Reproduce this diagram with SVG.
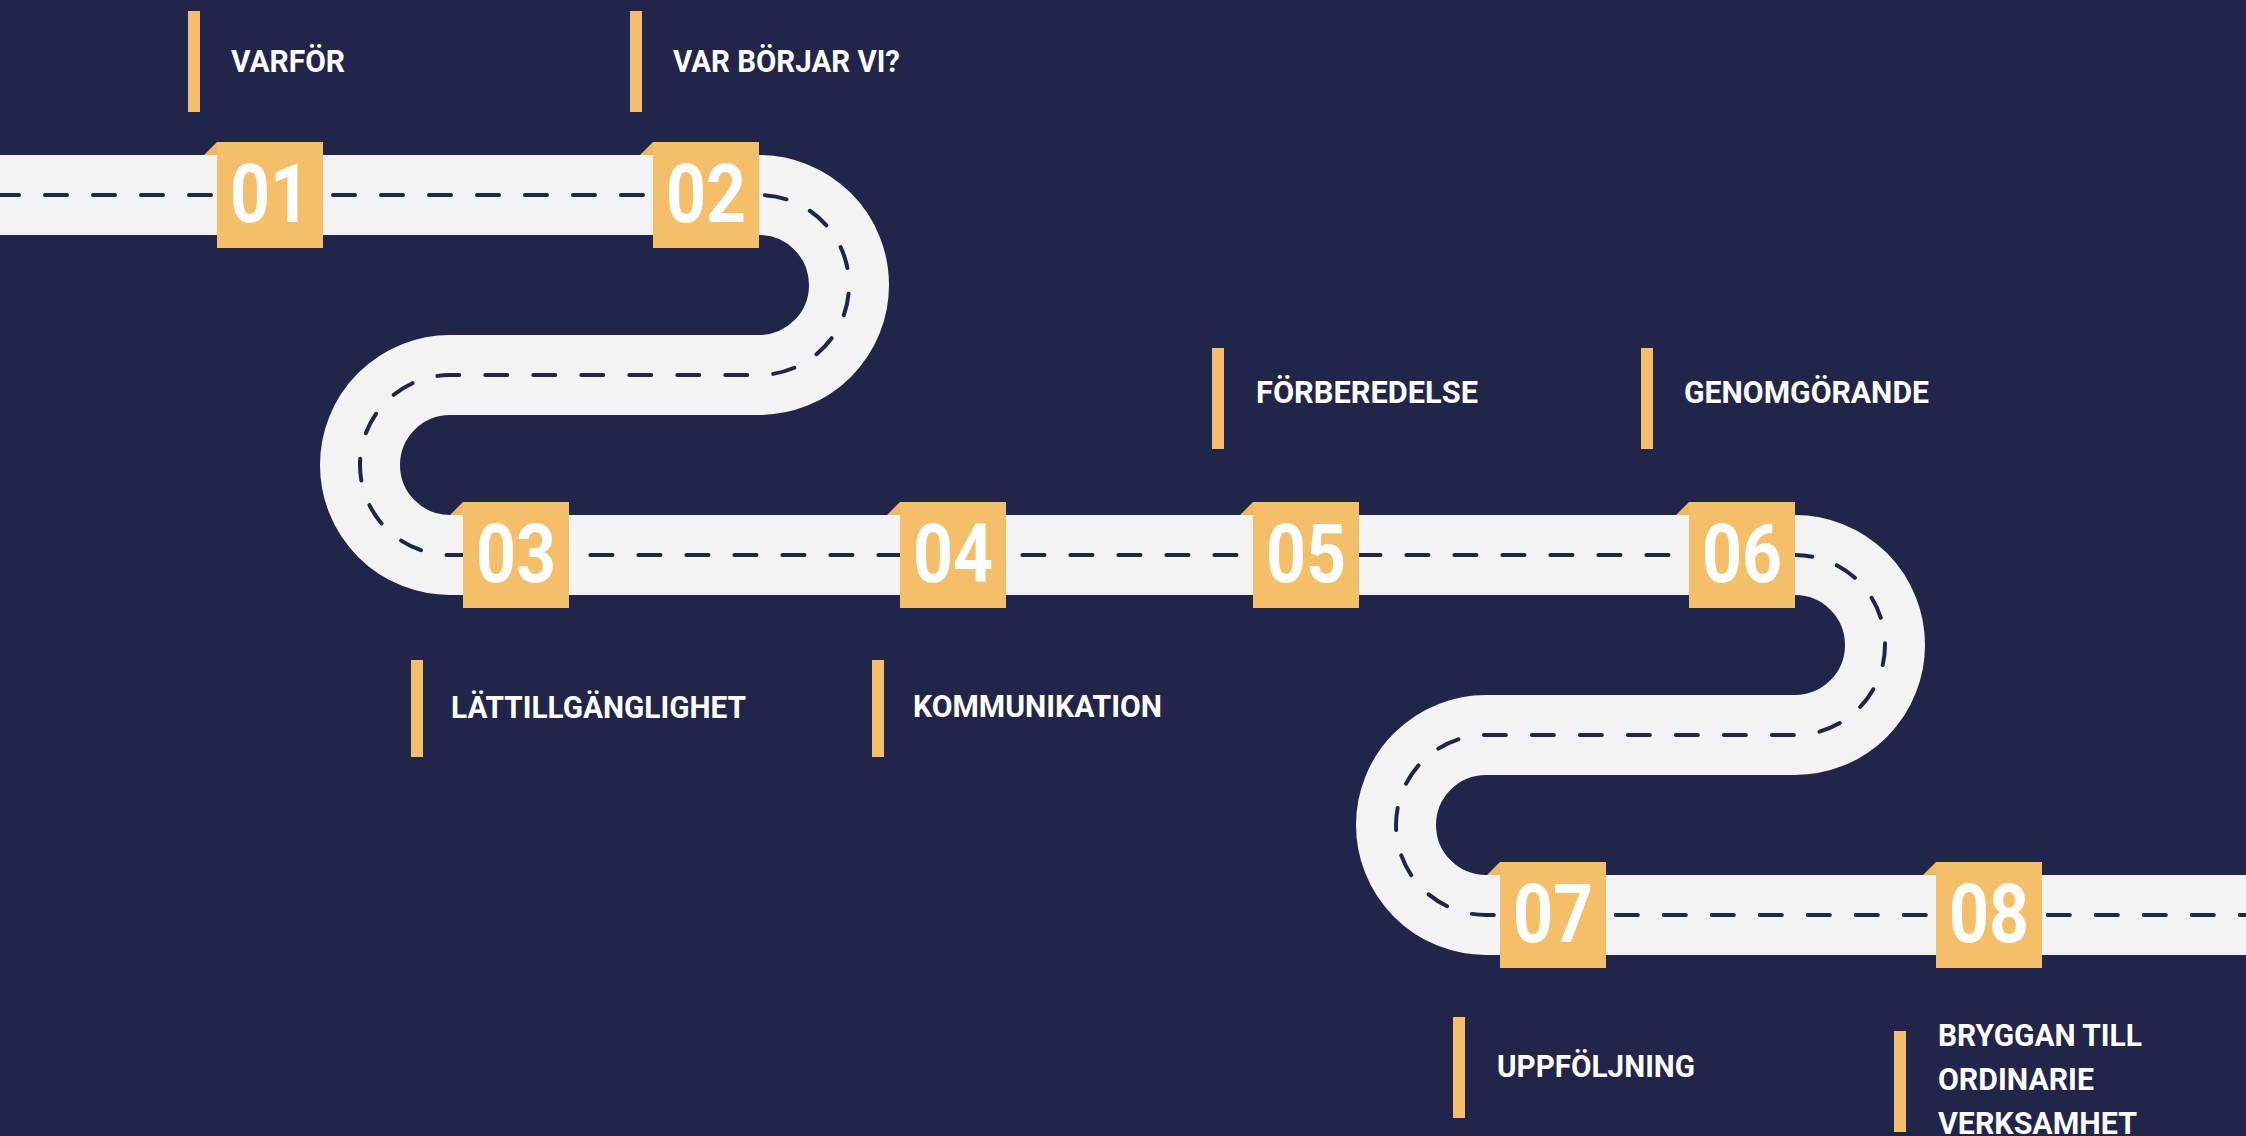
<svg xmlns="http://www.w3.org/2000/svg" width="2246" height="1136" viewBox="0 0 2246 1136">
  <defs>
    <style>
      .bg { fill: #22254a; }
      .road { fill: none; stroke: #f3f3f3; stroke-width: 80; stroke-linecap: butt; }
      .lane { fill: none; stroke: #22254a; stroke-width: 4; stroke-linecap: round; stroke-dasharray: 22 26; }
      .badge { fill: #f5bf6a; }
      .fold { fill: #efb862; }
      .num { fill: #ffffff; font-family: Roboto, "Liberation Sans", sans-serif; font-weight: 700; font-size: 82px; text-anchor: middle; }
      .bar { fill: #f5bf6a; }
      .label { fill: #ffffff; font-family: Roboto, "Liberation Sans", sans-serif; font-weight: 700; font-size: 31px; }
    </style>
  </defs>
  <rect class="bg" x="0" y="0" width="2246" height="1136"/>

  <g id="connectors">
    <path id="road" class="road" d="M0,195 H759 A90,90 0 0 1 759,375 H450 A90,90 0 0 0 450,555 H1795 A90,90 0 0 1 1795,735 H1486 A90,90 0 0 0 1486,915 H2246"/>
    <path id="lane" class="lane" d="M-3,195 H759 A90,90 0 0 1 759,375 H450 A90,90 0 0 0 450,555 H1795 A90,90 0 0 1 1795,735 H1486 A90,90 0 0 0 1486,915 H2246"/>
  </g>

  <g id="node-01">
    <polygon class="fold" points="204,155 217,142 217,155"/>
    <rect class="badge" x="217" y="142" width="106" height="106"/>
    <text class="num" x="270" y="222" textLength="80" lengthAdjust="spacingAndGlyphs">01</text>
  </g>
  <g id="node-02">
    <polygon class="fold" points="640,155 653,142 653,155"/>
    <rect class="badge" x="653" y="142" width="106" height="106"/>
    <text class="num" x="706" y="222" textLength="80" lengthAdjust="spacingAndGlyphs">02</text>
  </g>
  <g id="node-03">
    <polygon class="fold" points="450,515 463,502 463,515"/>
    <rect class="badge" x="463" y="502" width="106" height="106"/>
    <text class="num" x="516" y="582" textLength="80" lengthAdjust="spacingAndGlyphs">03</text>
  </g>
  <g id="node-04">
    <polygon class="fold" points="887,515 900,502 900,515"/>
    <rect class="badge" x="900" y="502" width="106" height="106"/>
    <text class="num" x="953" y="582" textLength="80" lengthAdjust="spacingAndGlyphs">04</text>
  </g>
  <g id="node-05">
    <polygon class="fold" points="1240,515 1253,502 1253,515"/>
    <rect class="badge" x="1253" y="502" width="106" height="106"/>
    <text class="num" x="1306" y="582" textLength="80" lengthAdjust="spacingAndGlyphs">05</text>
  </g>
  <g id="node-06">
    <polygon class="fold" points="1676,515 1689,502 1689,515"/>
    <rect class="badge" x="1689" y="502" width="106" height="106"/>
    <text class="num" x="1742" y="582" textLength="80" lengthAdjust="spacingAndGlyphs">06</text>
  </g>
  <g id="node-07">
    <polygon class="fold" points="1487,875 1500,862 1500,875"/>
    <rect class="badge" x="1500" y="862" width="106" height="106"/>
    <text class="num" x="1553" y="942" textLength="80" lengthAdjust="spacingAndGlyphs">07</text>
  </g>
  <g id="node-08">
    <polygon class="fold" points="1923,875 1936,862 1936,875"/>
    <rect class="badge" x="1936" y="862" width="106" height="106"/>
    <text class="num" x="1989" y="942" textLength="80" lengthAdjust="spacingAndGlyphs">08</text>
  </g>

  <g id="label-varfor">
    <rect class="bar" x="188" y="11" width="12" height="101"/>
    <text class="label" x="231" y="72" textLength="114" lengthAdjust="spacingAndGlyphs">VARFÖR</text>
  </g>
  <g id="label-var-borjar-vi">
    <rect class="bar" x="630" y="11" width="12" height="101"/>
    <text class="label" x="673" y="72" textLength="227" lengthAdjust="spacingAndGlyphs">VAR BÖRJAR VI?</text>
  </g>
  <g id="label-lattillganglighet">
    <rect class="bar" x="411" y="660" width="12" height="97"/>
    <text class="label" x="451" y="718" textLength="295" lengthAdjust="spacingAndGlyphs">LÄTTILLGÄNGLIGHET</text>
  </g>
  <g id="label-kommunikation">
    <rect class="bar" x="872" y="660" width="12" height="97"/>
    <text class="label" x="913" y="717" textLength="249" lengthAdjust="spacingAndGlyphs">KOMMUNIKATION</text>
  </g>
  <g id="label-forberedelse">
    <rect class="bar" x="1212" y="348" width="12" height="101"/>
    <text class="label" x="1256" y="403" textLength="222" lengthAdjust="spacingAndGlyphs">FÖRBEREDELSE</text>
  </g>
  <g id="label-genomgorande">
    <rect class="bar" x="1641" y="348" width="12" height="101"/>
    <text class="label" x="1684" y="403" textLength="245" lengthAdjust="spacingAndGlyphs">GENOMGÖRANDE</text>
  </g>
  <g id="label-uppfoljning">
    <rect class="bar" x="1453" y="1017" width="12" height="101"/>
    <text class="label" x="1497" y="1077" textLength="198" lengthAdjust="spacingAndGlyphs">UPPFÖLJNING</text>
  </g>
  <g id="label-bryggan">
    <rect class="bar" x="1894" y="1031" width="12" height="101"/>
    <text class="label" x="1938" y="1046" textLength="204" lengthAdjust="spacingAndGlyphs">BRYGGAN TILL</text>
    <text class="label" x="1938" y="1090" textLength="156" lengthAdjust="spacingAndGlyphs">ORDINARIE</text>
    <text class="label" x="1938" y="1134" textLength="199" lengthAdjust="spacingAndGlyphs">VERKSAMHET</text>
  </g>
</svg>
